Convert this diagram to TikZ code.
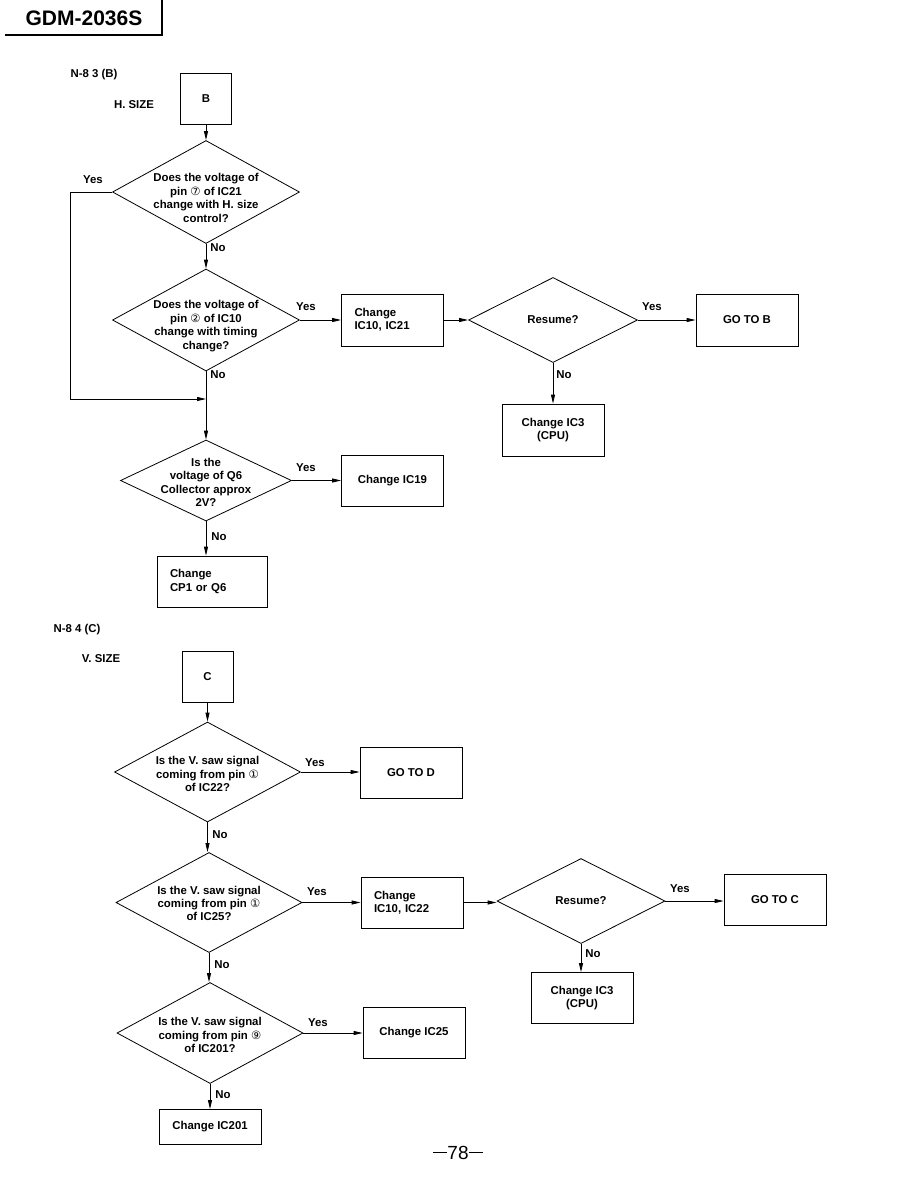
\documentclass[tikz,border=0pt]{standalone}
\usepackage{fontspec}
\setmainfont{Liberation Sans}
\newfontfamily\circfont{DejaVu Sans}
\usetikzlibrary{arrows.meta,shapes.geometric}
\newcommand{\pinno}[1]{{\circfont\mdseries #1}}
\newcommand{\chartfont}{\fontsize{11.4}{13.4}\selectfont\bfseries}
\tikzset{
  line/.style={line width=0.8pt},
  flow/.style={line, -{Triangle[length=9pt,width=4pt]}},
  box/.style={draw, line width=0.8pt, minimum width=102pt, minimum height=52pt, align=center, inner sep=0pt},
  leftbox/.style={box, align=left, text width=76pt},
  decision/.style={draw, diamond, line width=0.8pt, inner sep=0pt},
  qtext/.style={align=center, inner sep=0pt},
  answer/.style={inner sep=0pt}
}

\begin{document}
\begin{tikzpicture}[x=1pt, y=-1pt, font=\chartfont]
		%%%%% START %%%%%
		\useasboundingbox (0,0) rectangle (918,1187);
		
		\draw[line width=1.2pt] (5,35) -- (162,35) -- (162,0);
		\node (model) at (84,18) {\fontsize{21}{21}\selectfont GDM-2036S};
		
		%%%%% H. SIZE %%%%%
		\node[answer] (secb) at (94,75) {N-8 3 (B)};
		\node[answer] (hsize) at (134,105) {H. SIZE};
		\node[box, minimum width=51pt, minimum height=51pt] (startb) at (206,98.5) {B};
		
		\node[decision, minimum width=187pt, minimum height=103pt,
		  label={[qtext, yshift=-6pt]center:Does the voltage of\\pin \pinno{⑦} of IC21\\change with H. size\\control?}] (hq1) at (206,192) {};
		\node[decision, minimum width=187pt, minimum height=102pt,
		  label={[qtext, yshift=-6pt]center:Does the voltage of\\pin \pinno{②} of IC10\\change with timing\\change?}] (hq2) at (206,320) {};
		\node[leftbox] (chg1) at (392.5,320) {Change\\IC10, IC21};
		\node[decision, minimum width=169pt, minimum height=85pt] (res1) at (553,320) {Resume?};
		\node[box] (gob) at (747,320) {GO TO B};
		\node[box] (cpu1) at (553,430) {Change IC3\\(CPU)};
		\node[decision, minimum width=171pt, minimum height=81pt,
		  label={[qtext, yshift=-2pt]center:Is the\\voltage of Q6\\Collector approx\\2V?}] (hq3) at (206,480.5) {};
		\node[box, minimum height=51pt] (chg19) at (392.5,480.5) {Change IC19};
		\node[leftbox, minimum width=110pt, minimum height=51pt, text width=84pt] (chgcp) at (212,581.5) {Change\\CP1 or Q6};
		
		\coordinate (bypass) at (70,399);
		\coordinate (merge) at (206,399);
		
		\draw[flow] (startb.south) -- (hq1.north);
		\draw[flow] (hq1.south) -- (hq2.north);
		\draw[line] (hq1.west) -| (bypass);
		\draw[flow] (bypass) -- (merge);
		\draw[flow] (hq2.east) -- (chg1.west);
		\draw[flow] (hq2.south) -- (hq3.north);
		\draw[flow] (chg1.east) -- (res1.west);
		\draw[flow] (res1.east) -- (gob.west);
		\draw[flow] (res1.south) -- (cpu1.north);
		\draw[flow] (hq3.east) -- (chg19.west);
		\draw[flow] (hq3.south) -- (hq3.south |- chgcp.north);
		
		\node[answer] (y1) at (93,180) {Yes};
		\node[answer] (n1) at (218,248) {No};
		\node[answer] (y2) at (306,307) {Yes};
		\node[answer] (n2) at (218,375) {No};
		\node[answer] (y3) at (652,307) {Yes};
		\node[answer] (n3) at (564,375) {No};
		\node[answer] (y4) at (306,468) {Yes};
		\node[answer] (n4) at (219,537) {No};
		
		%%%%% V. SIZE %%%%%
		\node[answer] (secc) at (77,630) {N-8 4 (C)};
		\node[answer] (vsize) at (101,659) {V. SIZE};
		\node[box, minimum width=51pt, minimum height=51pt] (startc) at (207.5,676.5) {C};
		
		\node[decision, minimum width=186pt, minimum height=100pt,
		  label={[qtext, yshift=-2pt]center:Is the V. saw signal\\coming from pin \pinno{①}\\of IC22?}] (vq1) at (207.5,772) {};
		\node[box, minimum height=51pt] (god) at (411,773) {GO TO D};
		\node[decision, minimum width=186pt, minimum height=100pt,
		  label={[qtext, yshift=-1pt]center:Is the V. saw signal\\coming from pin \pinno{①}\\of IC25?}] (vq2) at (209,902.5) {};
		\node[leftbox, minimum height=51pt] (chg2) at (412,902.5) {Change\\IC10, IC22};
		\node[decision, minimum width=168pt, minimum height=85pt] (res2) at (581,901) {Resume?};
		\node[box, minimum height=51pt] (goc) at (775,900) {GO TO C};
		\node[box, minimum height=51pt] (cpu2) at (582,998) {Change IC3\\(CPU)};
		\node[decision, minimum width=186pt, minimum height=101pt,
		  label={[qtext, yshift=-2pt]center:Is the V. saw signal\\coming from pin \pinno{⑨}\\of IC201?}] (vq3) at (210,1033) {};
		\node[box, minimum height=51pt] (chg25) at (414,1033) {Change IC25};
		\node[box, minimum height=35pt] (chg201) at (210,1127) {Change IC201};
		
		\draw[flow] (startc.south) -- (vq1.north);
		\draw[flow] (vq1.east) -- (vq1.east -| god.west);
		\draw[flow] (vq1.south) -- (vq1.south |- vq2.north);
		\draw[flow] (vq2.east) -- (vq2.east -| chg2.west);
		\draw[flow] (chg2.east) -- (chg2.east -| res2.west);
		\draw[flow] (res2.east) -- (res2.east -| goc.west);
		\draw[flow] (res2.south) -- (res2.south |- cpu2.north);
		\draw[flow] (vq2.south) -- (vq2.south |- vq3.north);
		\draw[flow] (vq3.east) -- (vq3.east -| chg25.west);
		\draw[flow] (vq3.south) -- (chg201.north);
		
		\node[answer] (y5) at (315,763) {Yes};
		\node[answer] (n5) at (220,835) {No};
		\node[answer] (y6) at (317,892) {Yes};
		\node[answer] (n6) at (222,965) {No};
		\node[answer] (y7) at (680,889) {Yes};
		\node[answer] (n7) at (593,954) {No};
		\node[answer] (y8) at (318,1023) {Yes};
		\node[answer] (n8) at (223,1095) {No};
		
		\node (pageno) at (458,1153) {\fontsize{19}{19}\selectfont\mdseries\rule[0.35em]{0.75em}{0.6pt}78\rule[0.35em]{0.75em}{0.6pt}};
		%%%%% END %%%%%
\end{tikzpicture}
\end{document}
